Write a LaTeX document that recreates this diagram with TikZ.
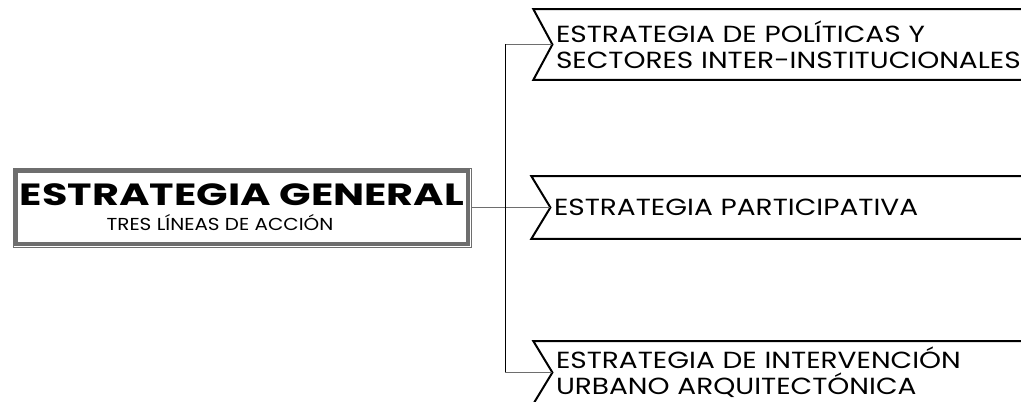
\documentclass[tikz,border=0pt]{standalone}
\usepackage{fontspec}
\usetikzlibrary{positioning}
\newfontfamily\titulofont[FakeStretch=1.35]{Poppins}
\newfontfamily\subfont[FakeStretch=1.15]{Poppins}
\newfontfamily\lineafont[FakeStretch=1.2]{Poppins}
\definecolor{grisL}{RGB}{110,110,110}

\begin{document}
\begin{tikzpicture}[x=0.75pt, y=-0.75pt,
    general/.style={rectangle, draw=grisL, line width=0.6pt, minimum width=343.5pt,
      minimum height=59.25pt, align=center, inner sep=0pt,
      font=\fontsize{12}{18.75}\selectfont,
      path picture={\draw[line width=3pt]
        ([shift={(1.9pt,1.9pt)}]path picture bounding box.south west) rectangle
        ([shift={(-1.9pt,-1.9pt)}]path picture bounding box.north east);}},
    linea/.style={rectangle, anchor=west, text width=470pt, align=left, inner sep=2.5pt,
      font=\lineafont\fontsize{17.5}{19.5}\selectfont},
    borde/.style={line width=1.5pt, line join=miter},
    rama/.style={draw=grisL, line width=0.8pt}]
    \clip (0,0) rectangle (1021,402);
    \node[general](g) at (242,207.5){{\titulofont\bfseries\fontsize{23}{18.75}\selectfont ESTRATEGIA GENERAL}\\
      {\subfont\fontsize{13}{18.75}\selectfont\hspace*{-33pt}TRES LÍNEAS DE ACCIÓN}};
    \node[linea, minimum height=46.5pt, right=59.25pt of g](par){ESTRATEGIA PARTICIPATIVA};
    \node[linea, minimum height=52.5pt] (pol) at ([xshift=1.5pt, yshift=122.25pt]par.west)
      {ESTRATEGIA DE POLÍTICAS Y\\SECTORES INTER-INSTITUCIONALES};
    \node[linea, minimum height=46.5pt] (urb) at ([xshift=1.5pt, yshift=-123.75pt]par.west)
      {ESTRATEGIA DE INTERVENCIÓN\\URBANO ARQUITECTÓNICA};
    % banderas
    \foreach \b in {pol,par,urb}
      \draw[borde] (\b.north east) -- ([xshift=-14.25pt]\b.north west) -- (\b.west)
        -- ([xshift=-14.25pt]\b.south west) -- (\b.south east);
    % conectores
    \coordinate (tr) at ([xshift=-33.75pt]par.west);
    \draw[rama] (g.east) -- (par.west);
    \draw[rama] (pol.west) -- (tr |- pol.west);
    \draw[rama] (urb.west) -- (tr |- urb.west);
    \draw[line width=0.8pt] (tr |- pol.west) -- (tr |- urb.west);
  \end{tikzpicture}
\end{document}
